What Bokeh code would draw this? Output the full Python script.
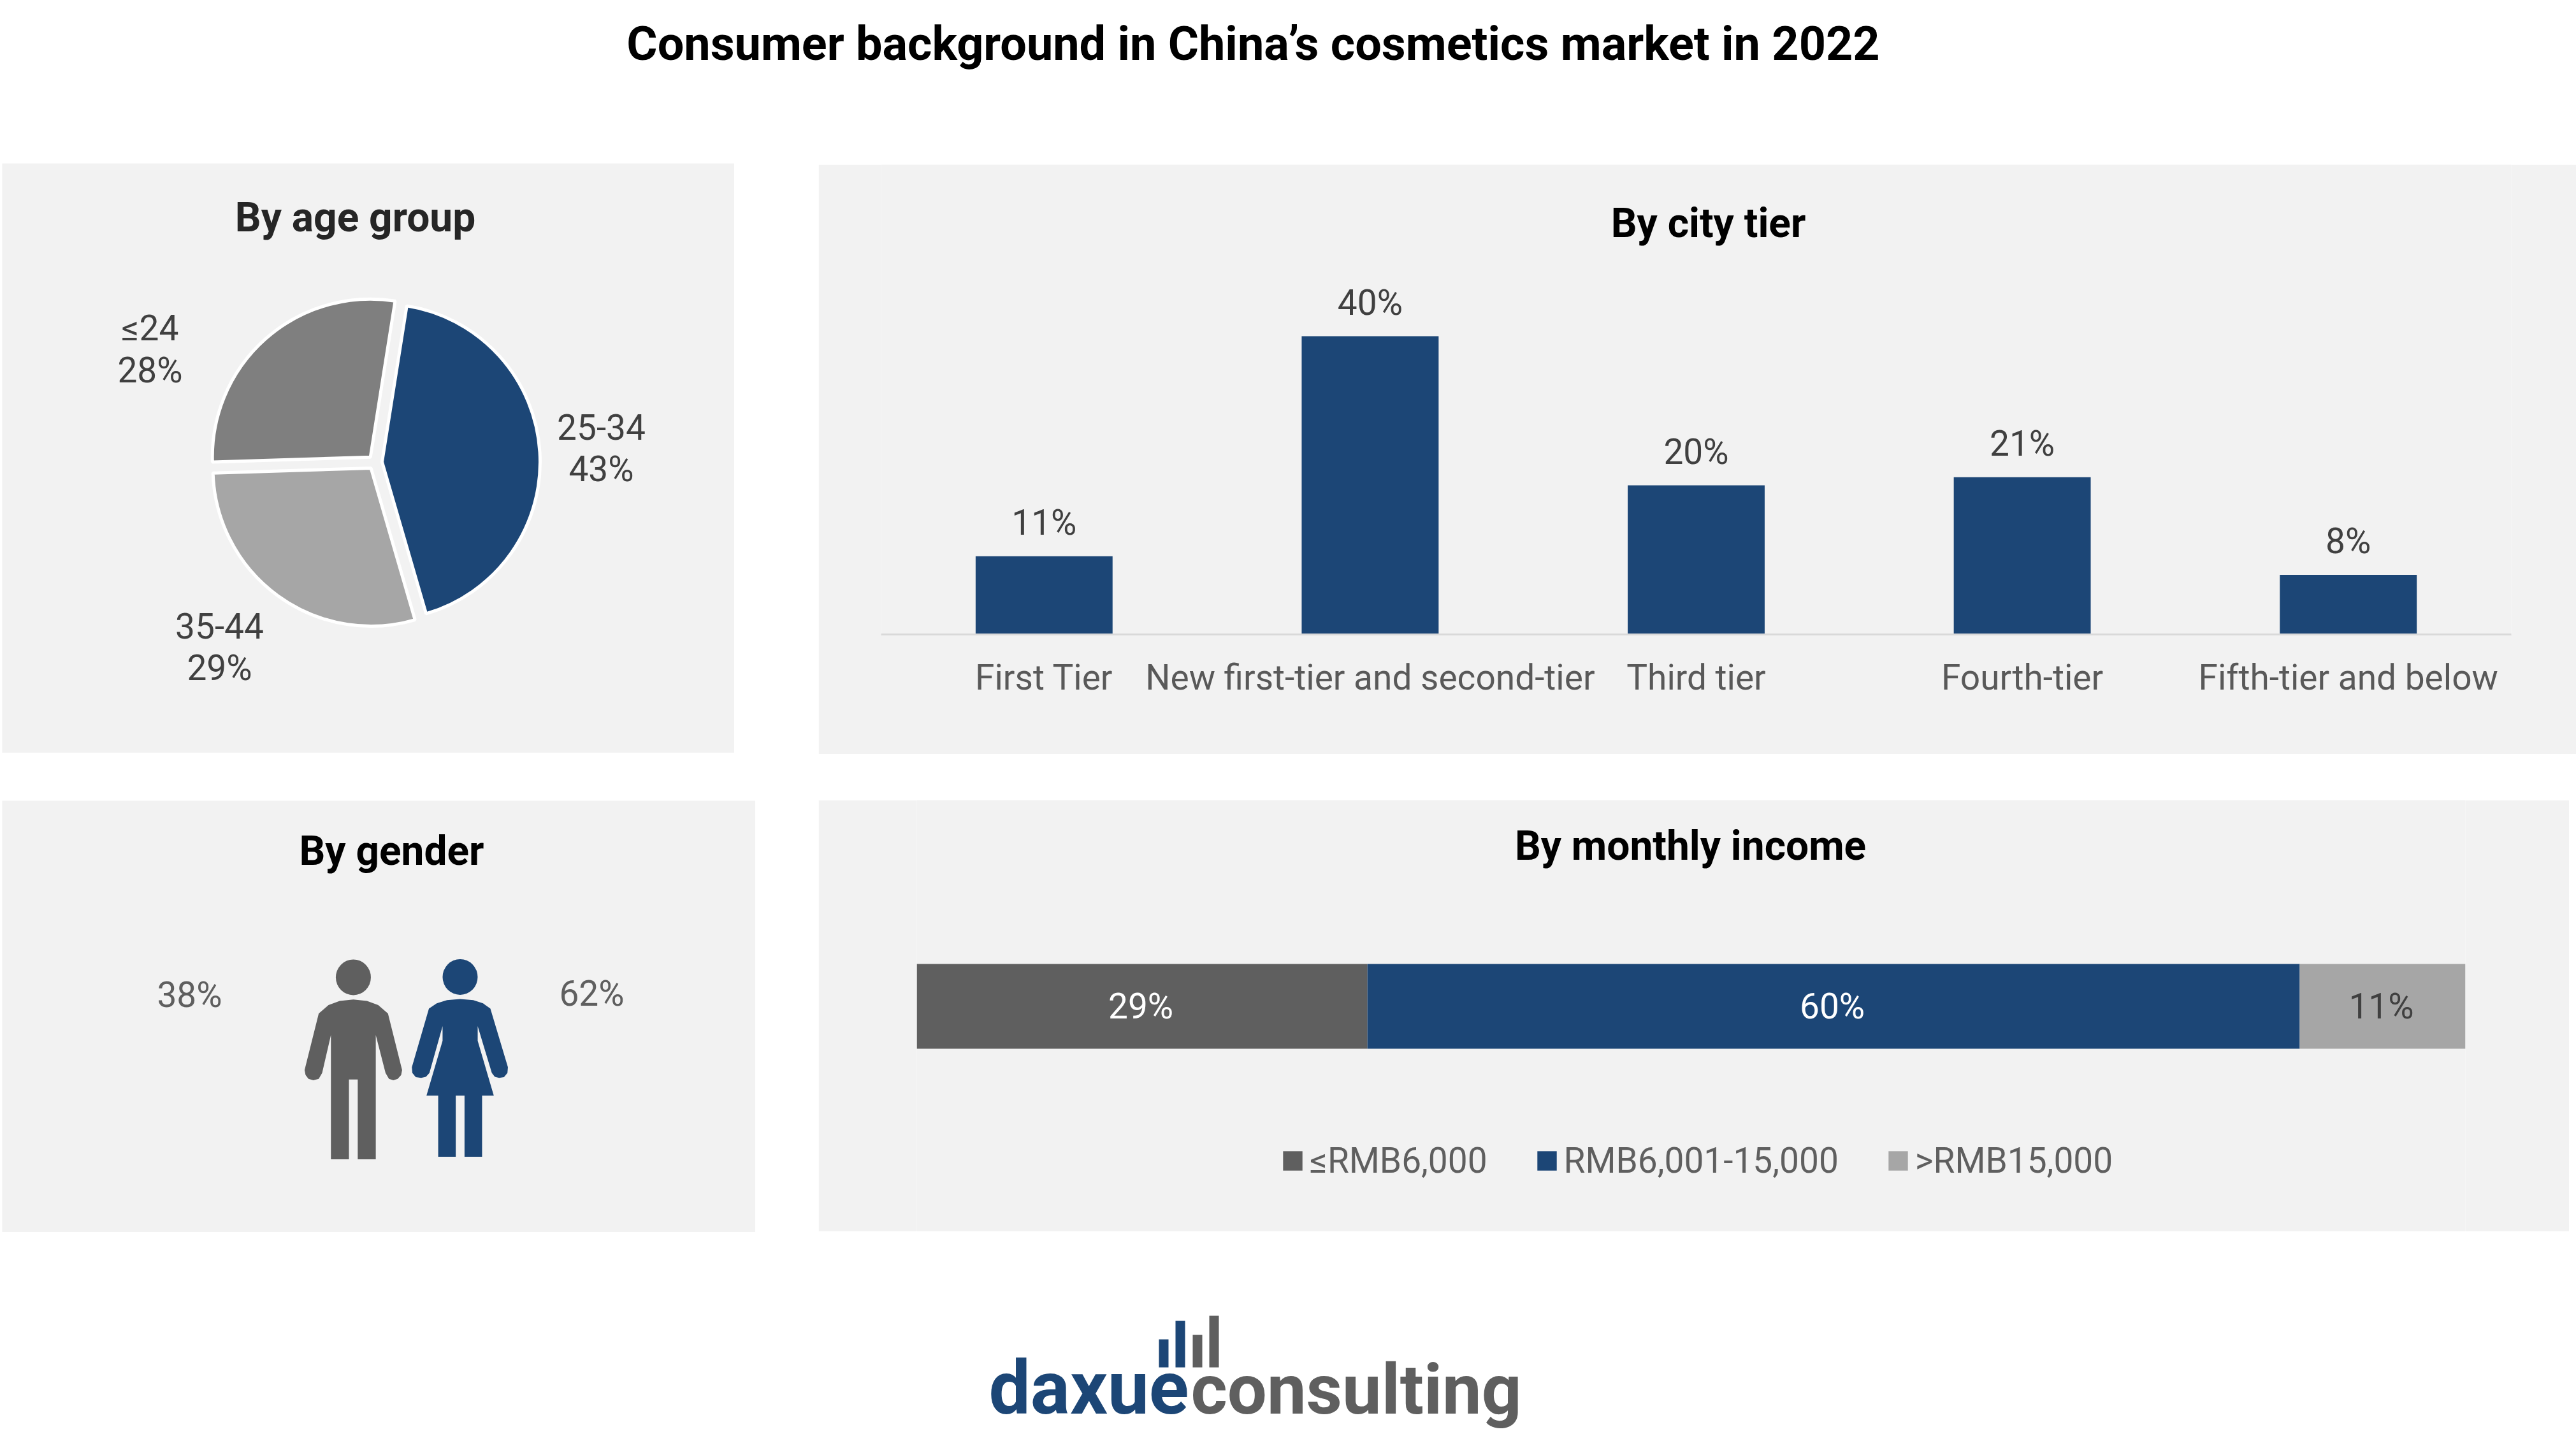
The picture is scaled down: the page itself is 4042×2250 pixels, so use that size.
from bokeh.plotting import figure
from bokeh.layouts import row, column
from bokeh.models import Range1d, Spacer, Label, FactorRange
from bokeh.core.properties import value
from bokeh.embed import file_html
from bokeh.resources import INLINE
import math

TITLE = "Consumer background in China\u2019s cosmetics market in 2022"

age_groups = ["25-34", "35-44", "\u226424"]
age_shares = [43, 29, 28]

city_tiers = ["First Tier", "New first-tier and second-tier", "Third tier", "Fourth-tier", "Fifth-tier and below"]
city_shares = [10.5, 40, 20, 21.1, 8]
city_labels = ["11%", "40%", "20%", "21%", "8%"]

gender_labels = ["38%", "62%"]

income_groups = ["\u2264RMB6,000", "RMB6,001-15,000", ">RMB15,000"]
income_shares = [29.1, 60.2, 10.7]
income_labels = ["29%", "60%", "11%"]

logo_bars = [44, 73, 51, 81]

BLUE = "#1C4676"
DARK = "#5F5F5F"
MID = "#7F7F7F"
LIGHT = "#A6A6A6"
PANEL = "#F2F2F2"
FONT = value("Roboto")
FS = "55px"
TS = "64px"


def base(width, height, x_range, y_range, fill=PANEL):
    p = figure(width=width, height=height, x_range=x_range, y_range=y_range,
               output_backend="svg", toolbar_location=None,
               min_border=0, min_border_left=0, min_border_right=0,
               min_border_top=0, min_border_bottom=0, frame_align=False)
    p.border_fill_color = fill
    p.background_fill_color = fill
    p.outline_line_color = None
    p.xgrid.visible = False
    p.ygrid.visible = False
    p.xaxis.visible = False
    p.yaxis.visible = False
    return p


def txt(p, x, y, s, color="#404040", size=FS, style="normal", align="center", baseline="middle"):
    p.text(x=[x], y=[y], text=[s], text_color=color, text_font=FONT, text_font_size=size,
           text_font_style=style, text_align=align, text_baseline=baseline)


# ---------- headline
top = base(4042, 256, Range1d(0, 4042), Range1d(256, 0), "#FFFFFF")
txt(top, 1966, 68, TITLE, "#000000", "73.8px", "bold")

# ---------- age pie
CX, CY = 588, 725
age = base(1149, 925, Range1d(3 - CX, 1152 - CX), Range1d(CY - 1181, CY - 256))
pie_colors = [BLUE, LIGHT, MID]
pie_start = 9.0
EXPLODE = 11
RADIUS = 248
a = pie_start
for share, col in zip(age_shares, pie_colors):
    b = a + share * 3.6
    mid = math.radians(90 - (a + b) / 2)
    age.wedge(x=[EXPLODE * math.cos(mid)], y=[EXPLODE * math.sin(mid)], radius=RADIUS,
              start_angle=90 - b, end_angle=90 - a, start_angle_units="deg", end_angle_units="deg",
              fill_color=col, line_color="#FFFFFF", line_width=5)
    a = b
txt(age, 557 - CX, CY - 341, "By age group", "#262626", TS, "bold")
age_lab = [(943, 669, 735), (344, 981, 1047), (235, 514, 580)]
for (lx, y1, y2), g, s in zip(age_lab, age_groups, age_shares):
    txt(age, lx - CX, CY - y1, g)
    txt(age, lx - CX, CY - y2, f"{s}%")

# ---------- gender panel
gender = base(1182, 677, Range1d(3, 1185), Range1d(1933, 1256))
txt(gender, 614, 1335, "By gender", "#000000", TS, "bold")
txt(gender, 297, 1560, gender_labels[0], DARK)
txt(gender, 928, 1558, gender_labels[1], DARK)


def gx(v):
    return v / 1.307


def gy(v):
    return 1240 + v / 2.178


man_shape = [(724, 714), (752, 719), (775, 733), (795, 762), (824, 955), (822, 972), (815, 985), (806, 990),
             (797, 985), (790, 965), (770, 835), (770, 1260), (733, 1260), (733, 987), (715, 987), (715, 1260),
             (678, 1260), (678, 835), (660, 965), (653, 985), (642, 990), (632, 985), (626, 972), (624, 955),
             (653, 762), (673, 733), (696, 719)]
woman_shape = [(943, 712), (970, 716), (990, 727), (1005, 745), (1041, 945), (1040, 965), (1033, 979), (1023, 982),
               (1014, 978), (1008, 965), (979, 805), (979, 855), (1012, 1042), (988, 1042), (988, 1251), (952, 1251),
               (952, 1042), (934, 1042), (934, 1251), (898, 1251), (898, 1042), (874, 1042), (907, 855), (907, 805),
               (880, 965), (873, 978), (863, 982), (852, 979), (845, 965), (844, 945), (879, 745), (895, 727), (916, 716)]
for shape, col, hx, hy in [(man_shape, DARK, 724, 638), (woman_shape, BLUE, 943, 637)]:
    gender.patch([gx(v[0]) for v in shape], [gy(v[1]) for v in shape], fill_color=col, line_color=None)
    gender.ellipse(x=[gx(hx)], y=[gy(hy)], width=55, height=56, fill_color=col, line_color=None)

# ---------- city tier bars
BASE_Y, PX_PER = 995, 11.7
city = base(2758, 925, FactorRange(*city_tiers, range_padding=0, factor_padding=0, group_padding=0),
            Range1d(0, (BASE_Y - 258) / PX_PER))
city.min_border_left = 98
city.min_border_right = 102
city.min_border_bottom = 1183 - BASE_Y
city.vbar(x=city_tiers, top=city_shares, width=0.42, fill_color=BLUE, line_color=None)
city.text(x=city_tiers, y=city_shares, text=city_labels, y_offset=-53,
          text_color="#404040", text_font=FONT, text_font_size=FS, text_align="center", text_baseline="middle")
ax = city.xaxis[0]
ax.visible = True
ax.axis_line_color = "#D9D9D9"
ax.axis_line_width = 3
ax.major_tick_line_color = None
ax.minor_tick_line_color = None
ax.major_label_text_font = "Roboto"
ax.major_label_text_font_size = FS
ax.major_label_text_color = "#595959"
ax.major_label_standoff = 29
city.add_layout(Label(x=2680 - 1382, y=BASE_Y - 350, x_units="screen", y_units="screen", text="By city tier",
                      text_font="Roboto", text_font_size=TS, text_font_style="bold", text_color="#000000",
                      text_align="center", text_baseline="middle"))

# ---------- income stacked bar
income = base(2747, 677, Range1d(0, 100), Range1d(-(1932 - 1578.5), 1578.5 - 1255))
income.min_border_left = 1438 - 1284
income.min_border_right = 4031 - 3868
left = 0
for share, grp, lab, col, tc in zip(income_shares, income_groups, income_labels, [DARK, BLUE, LIGHT],
                                    ["#FFFFFF", "#FFFFFF", "#404040"]):
    income.hbar(y=[0], left=[left], right=[left + share], height=133, fill_color=col, line_color=None,
                legend_label=grp)
    income.text(x=[left + share / 2], y=[0], text=[lab], x_offset=-2, text_color=tc, text_font=FONT,
                text_font_size=FS, text_align="center", text_baseline="middle")
    left += share
lg = income.legend[0]
lg.orientation = "horizontal"
lg.location = (2009 - 1438, 1932 - 1853)
lg.glyph_width = 38
lg.glyph_height = 38
lg.label_standoff = 8
lg.spacing = 74
lg.padding = 0
lg.margin = 0
lg.border_line_color = None
lg.background_fill_alpha = 0
lg.label_text_font = "Roboto"
lg.label_text_font_size = FS
lg.label_text_color = DARK
lg.label_height = 60
income.add_layout(Label(x=2652 - 1438, y=1932 - 1327, x_units="screen", y_units="screen", text="By monthly income",
                        text_font="Roboto", text_font_size=TS, text_font_style="bold", text_color="#000000",
                        text_align="center", text_baseline="middle"))

# ---------- logo
logo = base(4042, 317, Range1d(0, 4042), Range1d(2250, 1933), "#FFFFFF")
bar_lefts = [1818, 1844, 1871, 1897]
for lx, h, col in zip(bar_lefts, logo_bars, [BLUE, BLUE, DARK, DARK]):
    logo.vbar(x=[lx + 7.5], bottom=[2145], top=[2145 - h * 1.0], width=15, fill_color=col, line_color=None)
txt(logo, 1551, 2177, "daxue", BLUE, "116px", "bold", "left")
txt(logo, 1868, 2180, "consulting", DARK, "110px", "bold", "left")

left_col = column(age, Spacer(width=1182, height=75), gender)
right_col = column(Spacer(width=2758, height=2), city, Spacer(width=2758, height=72), income)
page = column(top, row(Spacer(width=3, height=10), left_col, Spacer(width=99, height=10), right_col), logo)

open("out.html", "w").write(file_html(page, INLINE))
